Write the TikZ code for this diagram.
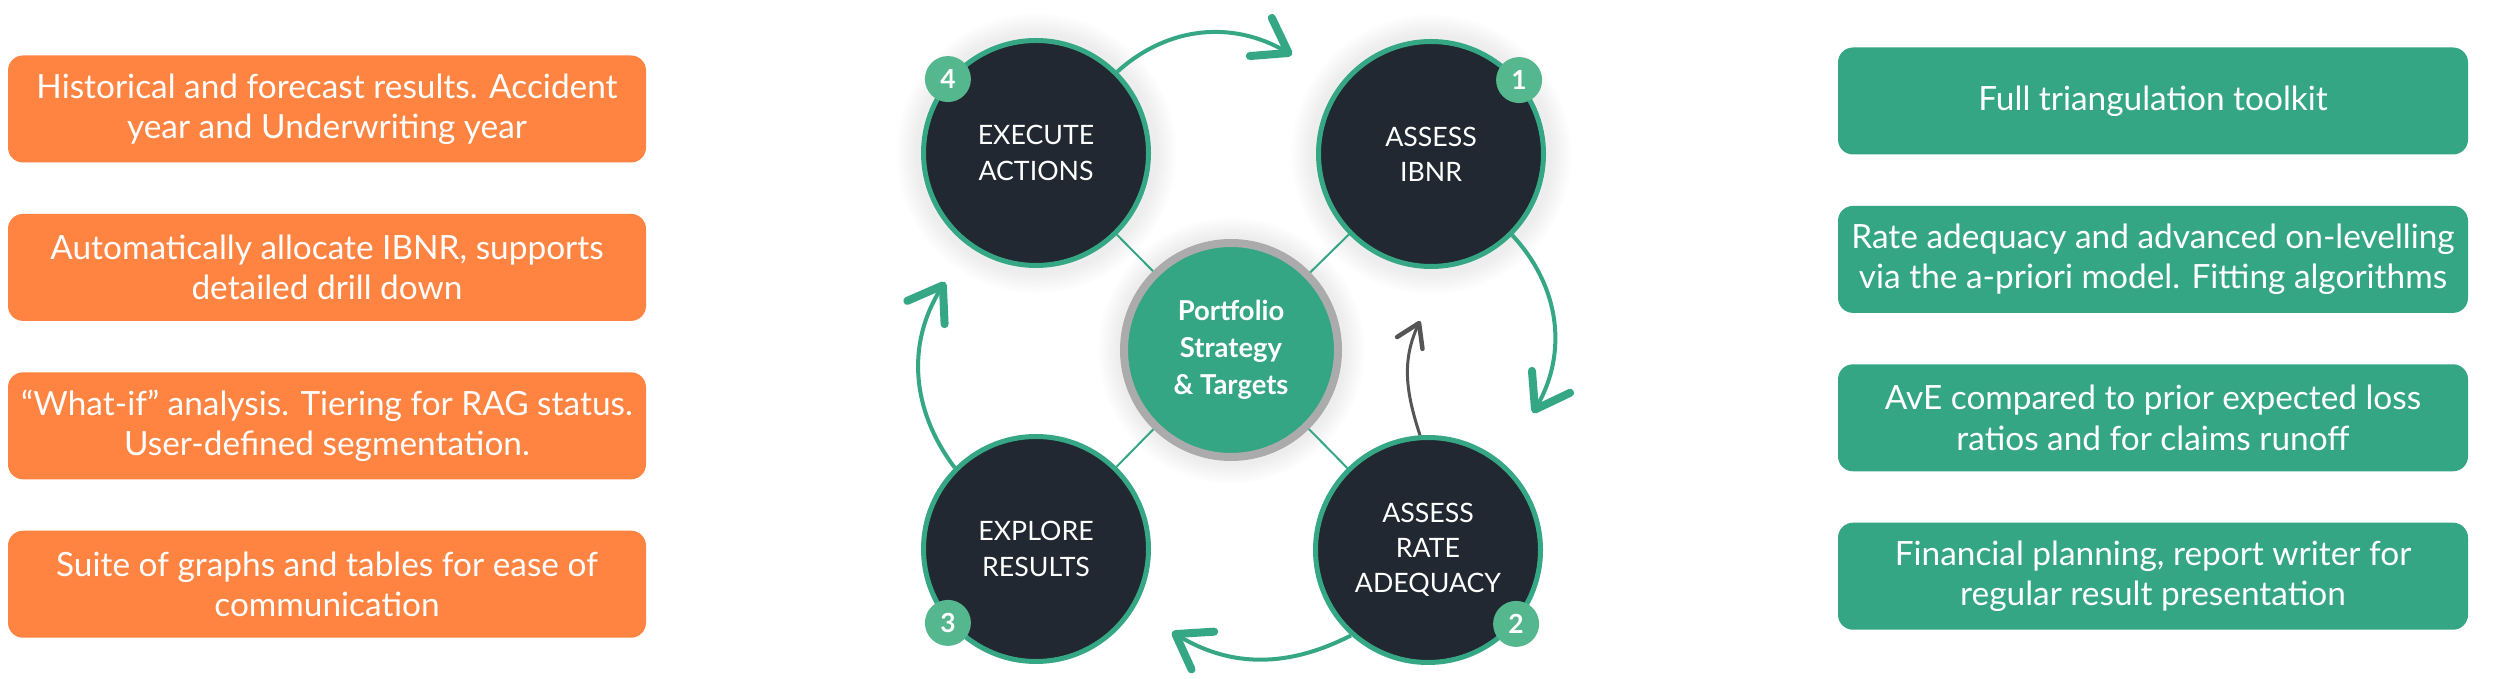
\documentclass[tikz,border=0pt]{standalone}
\usepackage{fontspec}
\setmainfont{Lato}
\usetikzlibrary{arrows.meta, positioning, shadows}

\definecolor{boxorange}{HTML}{FF8341}
\definecolor{boxgreen}{HTML}{35A683}
\definecolor{ringgreen}{HTML}{36A784}
\definecolor{badgegreen}{HTML}{55B78E}
\definecolor{stagedark}{HTML}{212831}
\definecolor{ringgrey}{HTML}{ABABAB}
\definecolor{loopgrey}{HTML}{555555}

\begin{document}
\begin{tikzpicture}[
    feature/.style={rounded corners=0.15cm, align=center, text=white, inner sep=0pt,
                    font=\fontsize{9.5}{11.5}\selectfont, minimum height=1.07cm},
    stage/.style={circle, draw=ringgreen, line width=0.05cm, fill=stagedark, text=white, align=center,
                  minimum size=2.25cm, inner sep=0pt, font=\fontsize{7.6}{10}\selectfont},
    badge/.style={circle, fill=badgegreen, text=white, minimum size=0.46cm, inner sep=0pt,
                  font=\bfseries\fontsize{7.5}{8}\selectfont},
    cycle/.style={draw=ringgreen, line width=0.04cm,
                  -{Straight Barb[length=0.32cm, width=0.44cm, line width=0.08cm, round]}},
    spoke/.style={draw=ringgreen, line width=0.02cm},
    glow/.style={circular glow={fill=black, opacity=0.07}},
    node distance=0.5cm
  ]
    \useasboundingbox[fill=white] (0,0) rectangle (25,6.79);

    \node[feature, fill=boxorange, minimum width=6.38cm] (l1) at (3.27,5.70)
        {Historical and forecast results. Accident\\year and Underwriting year};
    \node[feature, fill=boxorange, minimum width=6.38cm, below=of l1] (l2)
        {Automatically allocate IBNR, supports\\detailed drill down};
    \node[feature, fill=boxorange, minimum width=6.38cm, below=of l2] (l3)
        {“What-if” analysis. Tiering for RAG status.\\User-defined segmentation.};
    \node[feature, fill=boxorange, minimum width=6.38cm, below=of l3] (l4)
        {Suite of graphs and tables for ease of\\communication};

    \node[feature, fill=boxgreen, minimum width=6.30cm] (r1) at (21.53,5.78)
        {Full triangulation toolkit};
    \node[feature, fill=boxgreen, minimum width=6.30cm, below=of r1] (r2)
        {Rate adequacy and advanced on-levelling\\via the a-priori model. Fitting algorithms};
    \node[feature, fill=boxgreen, minimum width=6.30cm, below=of r2] (r3)
        {AvE compared to prior expected loss\\ratios and for claims runoff};
    \node[feature, fill=boxgreen, minimum width=6.30cm, below=of r3] (r4)
        {Financial planning, report writer for\\regular result presentation};

    \node[stage, glow] (exe) at (10.36,5.26) {EXECUTE\\ACTIONS};
    \node[stage, glow] (ibnr) at (14.31,5.25) {ASSESS\\IBNR};
    \node[stage] (expl) at (10.36,1.30) {EXPLORE\\RESULTS};
    \node[stage] (rate) at (14.28,1.29) {ASSESS\\RATE\\ADEQUACY};
    \node[circle, fill=boxgreen, draw=ringgrey, line width=0.08cm, minimum size=2.14cm, inner sep=0pt,
          text=white, align=center, font=\bfseries\fontsize{7.8}{10.5}\selectfont, glow] (ctr) at (12.31,3.29)
        {Portfolio\\Strategy\\\& Targets};

    \draw[spoke] (ctr) -- (exe);
    \draw[spoke] (ctr) -- (ibnr);
    \draw[spoke] (ctr) -- (expl);
    \draw[spoke] (ctr) -- (rate);

    \node[badge] (n1) at (ibnr.40) {1};
    \node[badge] (n2) at (rate.-40) {2};
    \node[badge] (n3) at (expl.220) {3};
    \node[badge] (n4) at (exe.140) {4};

    \coordinate (tipa) at (12.92,6.24);
    \coordinate (tipb) at (15.33,2.66);
    \coordinate (tipc) at (11.72,0.47);
    \coordinate (tipd) at (9.45,3.97);
    \coordinate (tipe) at (14.20,3.58);
    \draw[cycle] (exe.45) to[out=42, in=150] (tipa);
    \draw[cycle] (ibnr.-45) to[out=-47, in=60] (tipb);
    \draw[cycle] (rate.228) to[out=207, in=-31] (tipc);
    \draw[cycle] (expl.135) to[out=127, in=-122] (tipd);
    \draw[draw=loopgrey, line width=0.03cm,
          -{Straight Barb[length=0.22cm, width=0.28cm, line width=0.045cm, round]}]
        (rate.94) to[out=108, in=-115] (tipe);
  \end{tikzpicture}
\end{document}
